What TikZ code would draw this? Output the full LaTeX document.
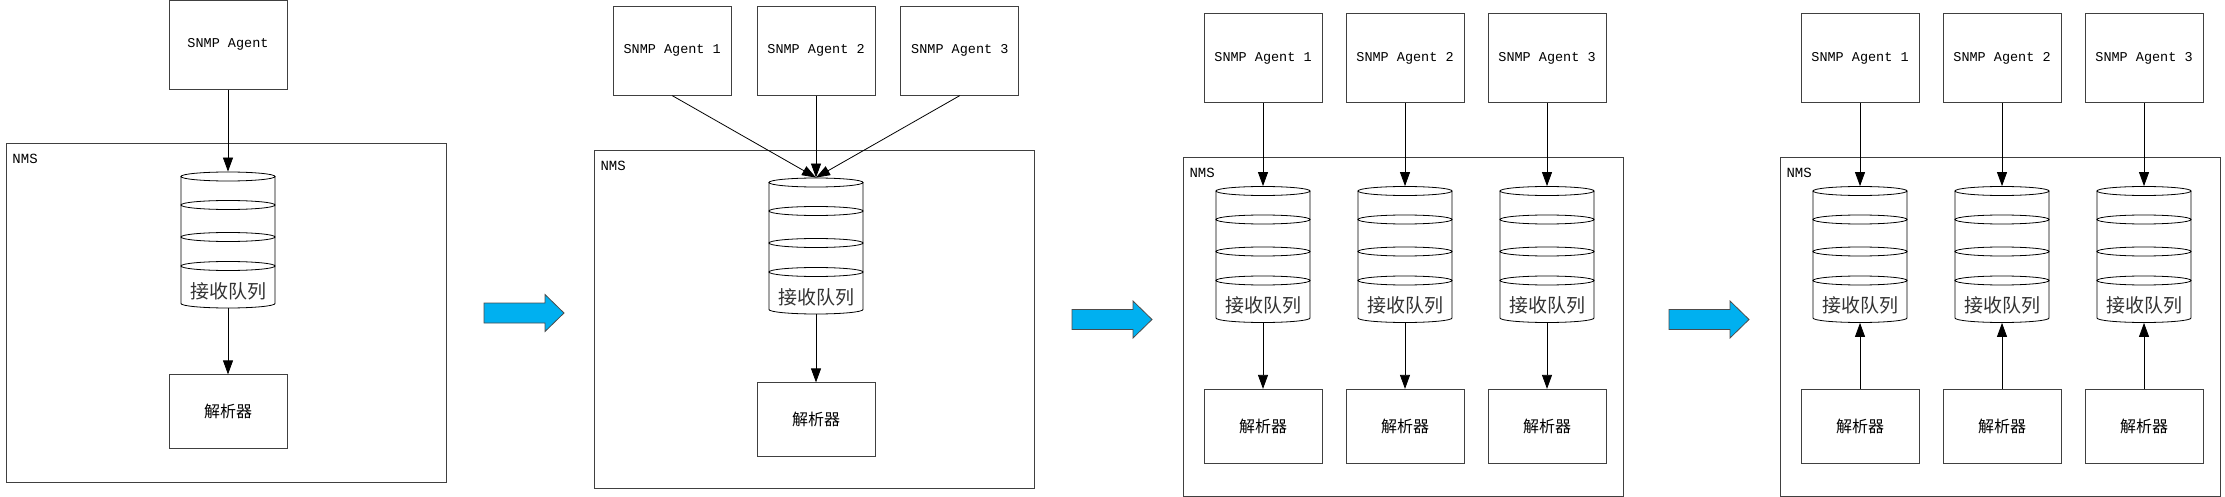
\documentclass[tikz,border=0pt]{standalone}
\usepackage{fontspec}
\setmonofont{Liberation Mono}
\newfontfamily\cjk{Noto Sans CJK SC}
\usepackage{tikz}
\usetikzlibrary{positioning,arrows.meta}
\definecolor{arrowblue}{HTML}{00B0F0}

\begin{document}
\begin{tikzpicture}[x=1pt, y=1pt, thick, >={Triangle[length=14pt,width=10pt]},
  agent/.style = {draw=black!75, minimum width=118, minimum height=89, font=\ttfamily\fontsize{13.5}{16}\selectfont},
  parser/.style = {draw=black!75, minimum width=118, minimum height=74, font=\cjk\fontsize{16}{18}\selectfont},
  nms/.style = {draw=black!75, minimum width=440, minimum height=339},
  nmslabel/.style = {anchor=north west, inner sep=0, font=\ttfamily\fontsize{14}{16}\selectfont},
  qbody/.style = {minimum width=94, minimum height=136, inner sep=0},
  qtext/.style = {inner sep=0, text=black!80, font=\cjk\fontsize{19}{21}\selectfont},
  bigarrow/.style = {draw=black!70, fill=arrowblue, line width=0.8pt},
  queue/.pic = {
    \node[qbody] (-b) {};
    \draw (-47,63.5) -- (-47,-63.5) arc[start angle=180, end angle=360, x radius=47, y radius=4.5] -- (47,63.5);
    \draw (0,63.5) ellipse [x radius=47, y radius=4.5] (0,35) ellipse [x radius=47, y radius=4.5]
      (0,3) ellipse [x radius=47, y radius=4.5] (0,-26) ellipse [x radius=47, y radius=4.5];
    \node[qtext] at (0,-51) {接收队列};
  },
  flowarrow/.pic = {
    \draw[bigarrow] (0,10) -- (61,10) -- (61,18.5) -- (80,0) -- (61,-18.5) -- (61,-10) -- (0,-10) -- cycle;
  }]
\useasboundingbox (0,0) rectangle (2225,-497);

% one agent
\node[nms] (n1) at (226,-312.5) {};
\node[nmslabel] (l1) at ([xshift=6.5,yshift=-11]n1.north west) {NMS};
\pic (q1) at (228,-240) {queue};
\node[agent, above=82pt of q1-b] (a1) {SNMP Agent};
\node[parser, below=66pt of q1-b] (p1) {解析器};
\draw[->] (a1) -- (q1-b);
\draw[->] (q1-b) -- (p1);

\pic at (484,-313) {flowarrow};

% three agents, one queue
\node[nms, minimum height=338] (n2) at (814,-319) {};
\node[nmslabel] (l2) at ([xshift=6.5,yshift=-11]n2.north west) {NMS};
\pic (q2) at (816,-246) {queue};
\node[agent, above=82pt of q2-b] (a22) {SNMP Agent 2};
\node[agent, left=25pt of a22] (a21) {SNMP Agent 1};
\node[agent, right=25pt of a22] (a23) {SNMP Agent 3};
\node[parser, below=68pt of q2-b] (p2) {解析器};
\draw[->] (a21.south) -- (q2-b.north);
\draw[->] (a22) -- (q2-b);
\draw[->] (a23.south) -- (q2-b.north);
\draw[->] (q2-b) -- (p2);

\pic at (1072,-319.5) {flowarrow};

% one queue per agent
\node[nms] (n3) at (1403,-326.5) {};
\node[nmslabel] (l3) at ([xshift=6.5,yshift=-11]n3.north west) {NMS};
\pic (q31) at (1263,-254.5) {queue};
\pic (q32) at (1405,-254.5) {queue};
\pic (q33) at (1547,-254.5) {queue};
\node[agent, above=83pt of q31-b] (a31) {SNMP Agent 1};
\node[agent, above=83pt of q32-b] (a32) {SNMP Agent 2};
\node[agent, above=83pt of q33-b] (a33) {SNMP Agent 3};
\node[parser, below=66pt of q31-b] (p31) {解析器};
\node[parser, below=66pt of q32-b] (p32) {解析器};
\node[parser, below=66pt of q33-b] (p33) {解析器};
\draw[->] (a31) -- (q31-b);
\draw[->] (a32) -- (q32-b);
\draw[->] (a33) -- (q33-b);
\draw[->] (q31-b) -- (p31);
\draw[->] (q32-b) -- (p32);
\draw[->] (q33-b) -- (p33);

\pic at (1669,-319.5) {flowarrow};

% parsers pull from the queues
\node[nms] (n4) at (2000,-326.5) {};
\node[nmslabel] (l4) at ([xshift=6.5,yshift=-11]n4.north west) {NMS};
\pic (q41) at (1860,-254.5) {queue};
\pic (q42) at (2002,-254.5) {queue};
\pic (q43) at (2144,-254.5) {queue};
\node[agent, above=83pt of q41-b] (a41) {SNMP Agent 1};
\node[agent, above=83pt of q42-b] (a42) {SNMP Agent 2};
\node[agent, above=83pt of q43-b] (a43) {SNMP Agent 3};
\node[parser, below=66pt of q41-b] (p41) {解析器};
\node[parser, below=66pt of q42-b] (p42) {解析器};
\node[parser, below=66pt of q43-b] (p43) {解析器};
\draw[->] (a41) -- (q41-b);
\draw[->] (a42) -- (q42-b);
\draw[->] (a43) -- (q43-b);
\draw[->] (p41) -- (q41-b);
\draw[->] (p42) -- (q42-b);
\draw[->] (p43) -- (q43-b);
\end{tikzpicture}
\end{document}
